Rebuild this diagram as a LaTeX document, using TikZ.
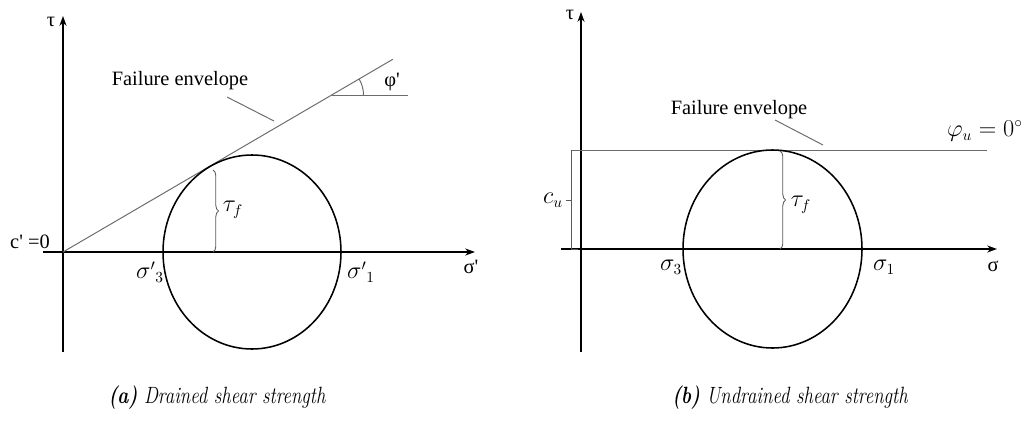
\documentclass[tikz,border=0pt]{standalone}
\usepackage{graphicx}
\usepackage{fontspec}
\newfontfamily\tnr{Liberation Serif}
\usetikzlibrary{arrows.meta,decorations.pathreplacing,calc}
\begin{document}
\begin{tikzpicture}[x=0.025cm,y=0.025cm,
  axis/.style={line width=1.1pt,black},
  axisarrow/.style={axis,-{Stealth[length=7pt,width=5pt]}},
  env/.style={line width=0.7pt,gray!85!black},
  mohr/.style={line width=1.1pt,black},
  bracketline/.style={line width=0.6pt,gray!70!black},
  lbl/.style={font=\tnr\fontsize{14.5}{16}\selectfont,inner sep=0pt},
  mlbl/.style={font=\fontsize{16}{18}\selectfont,inner sep=0pt},
  captext/.style={font=\fontsize{13.4}{16}\selectfont\itshape,inner sep=0pt},
  bracebar/.style={bracketline,decorate,decoration={brace,amplitude=4pt}}
]
\useasboundingbox (0,0) rectangle (1024,423);
% ---------------- (a) ----------------
\coordinate (aO) at (63,171);
\coordinate (aTb) at (63,71);
\coordinate (aTt) at (63,407);
\coordinate (aSl) at (43,171);
\coordinate (aSr) at (475,171);
\draw[axisarrow] (aTb) -- (aTt);
\draw[axisarrow] (aSl) -- (aSr);
\node[lbl] (atau) at (51,401) {τ};
\node[lbl] (asig) at (471,156) {σ'};
\node[lbl] (ac) at (30,181) {c' =0};
\coordinate (aE) at ($(aO)+(30.3:382)$);
\coordinate (aA) at ($(aO)+(30.3:311)$);
\coordinate (aH) at ($(aA)+(76,0)$);
\draw[env] (aO) -- (aE);
\draw[env] (aA) -- (aH);
\draw[env] ($(aA)+(32,0)$) arc[start angle=0,end angle=30.3,radius=32];
\node[lbl] (aphi) at (392,341) {φ'};
\node[lbl] (afe) at (180,342) {Failure envelope};
\coordinate (aL1) at (227,326);
\coordinate (aL2) at (274,302);
\draw[env] (aL1) -- (aL2);
\draw[mohr] (252,171) ellipse[x radius=89,y radius=97];
\coordinate (aB1) at (213,253);
\coordinate (aB2) at (213,171);
\draw[bracebar] (aB1) -- (aB2);
\node[mlbl] (atf) at (233,213) {$\tau_f$};
\node[mlbl] (as3) at (150,151) {$\sigma'{}_3$};
\node[mlbl] (as1) at (361,151) {$\sigma'{}_1$};
% ---------------- (b) ----------------
\coordinate (bO) at (581,174);
\coordinate (bTb) at (581,71);
\coordinate (bTt) at (581,411);
\coordinate (bSl) at (561,174);
\coordinate (bSr) at (997,174);
\draw[axisarrow] (bTb) -- (bTt);
\draw[axisarrow] (bSl) -- (bSr);
\node[lbl] (btau) at (570,408) {τ};
\node[lbl] (bsig) at (993,157) {σ};
\coordinate (bE1) at (571,273);
\coordinate (bE2) at (987,273);
\draw[env] (bE1) -- (bE2);
\node[mlbl,anchor=east] (bphi) at (1023,292) {$\varphi_u = 0^{\circ}$};
\node[lbl] (bfe) at (739,313) {Failure envelope};
\coordinate (bL1) at (775,303);
\coordinate (bL2) at (823,278);
\draw[env] (bL1) -- (bL2);
\draw[mohr] (772.5,174) ellipse[x radius=89.5,y radius=99];
\coordinate (bB1) at (780,272);
\coordinate (bB2) at (780,174);
\draw[bracebar] (bB1) -- (bB2);
\node[mlbl] (btf) at (801,218) {$\tau_f$};
\coordinate (bC1) at (571,174);
\coordinate (bC2) at (578,174);
\coordinate (bCm) at (571,223);
\coordinate (bCt) at (566,223);
\draw[bracketline] (bE1) -- (bC1) -- (bC2);
\draw[bracketline] (bCm) -- (bCt);
\node[mlbl] (bcu) at (553,223) {$c_u$};
\node[mlbl] (bs3) at (671,156) {$\sigma_3$};
\node[mlbl] (bs1) at (884,156) {$\sigma_1$};
% ---------------- captions ----------------
\node[captext] (capa) at (217,25) {\scalebox{1}[1.25]{\textbf{(a)} Drained shear strength}};
\node[captext] (capb) at (790,25) {\scalebox{1}[1.25]{\textbf{(b)} Undrained shear strength}};
\end{tikzpicture}
\end{document}
